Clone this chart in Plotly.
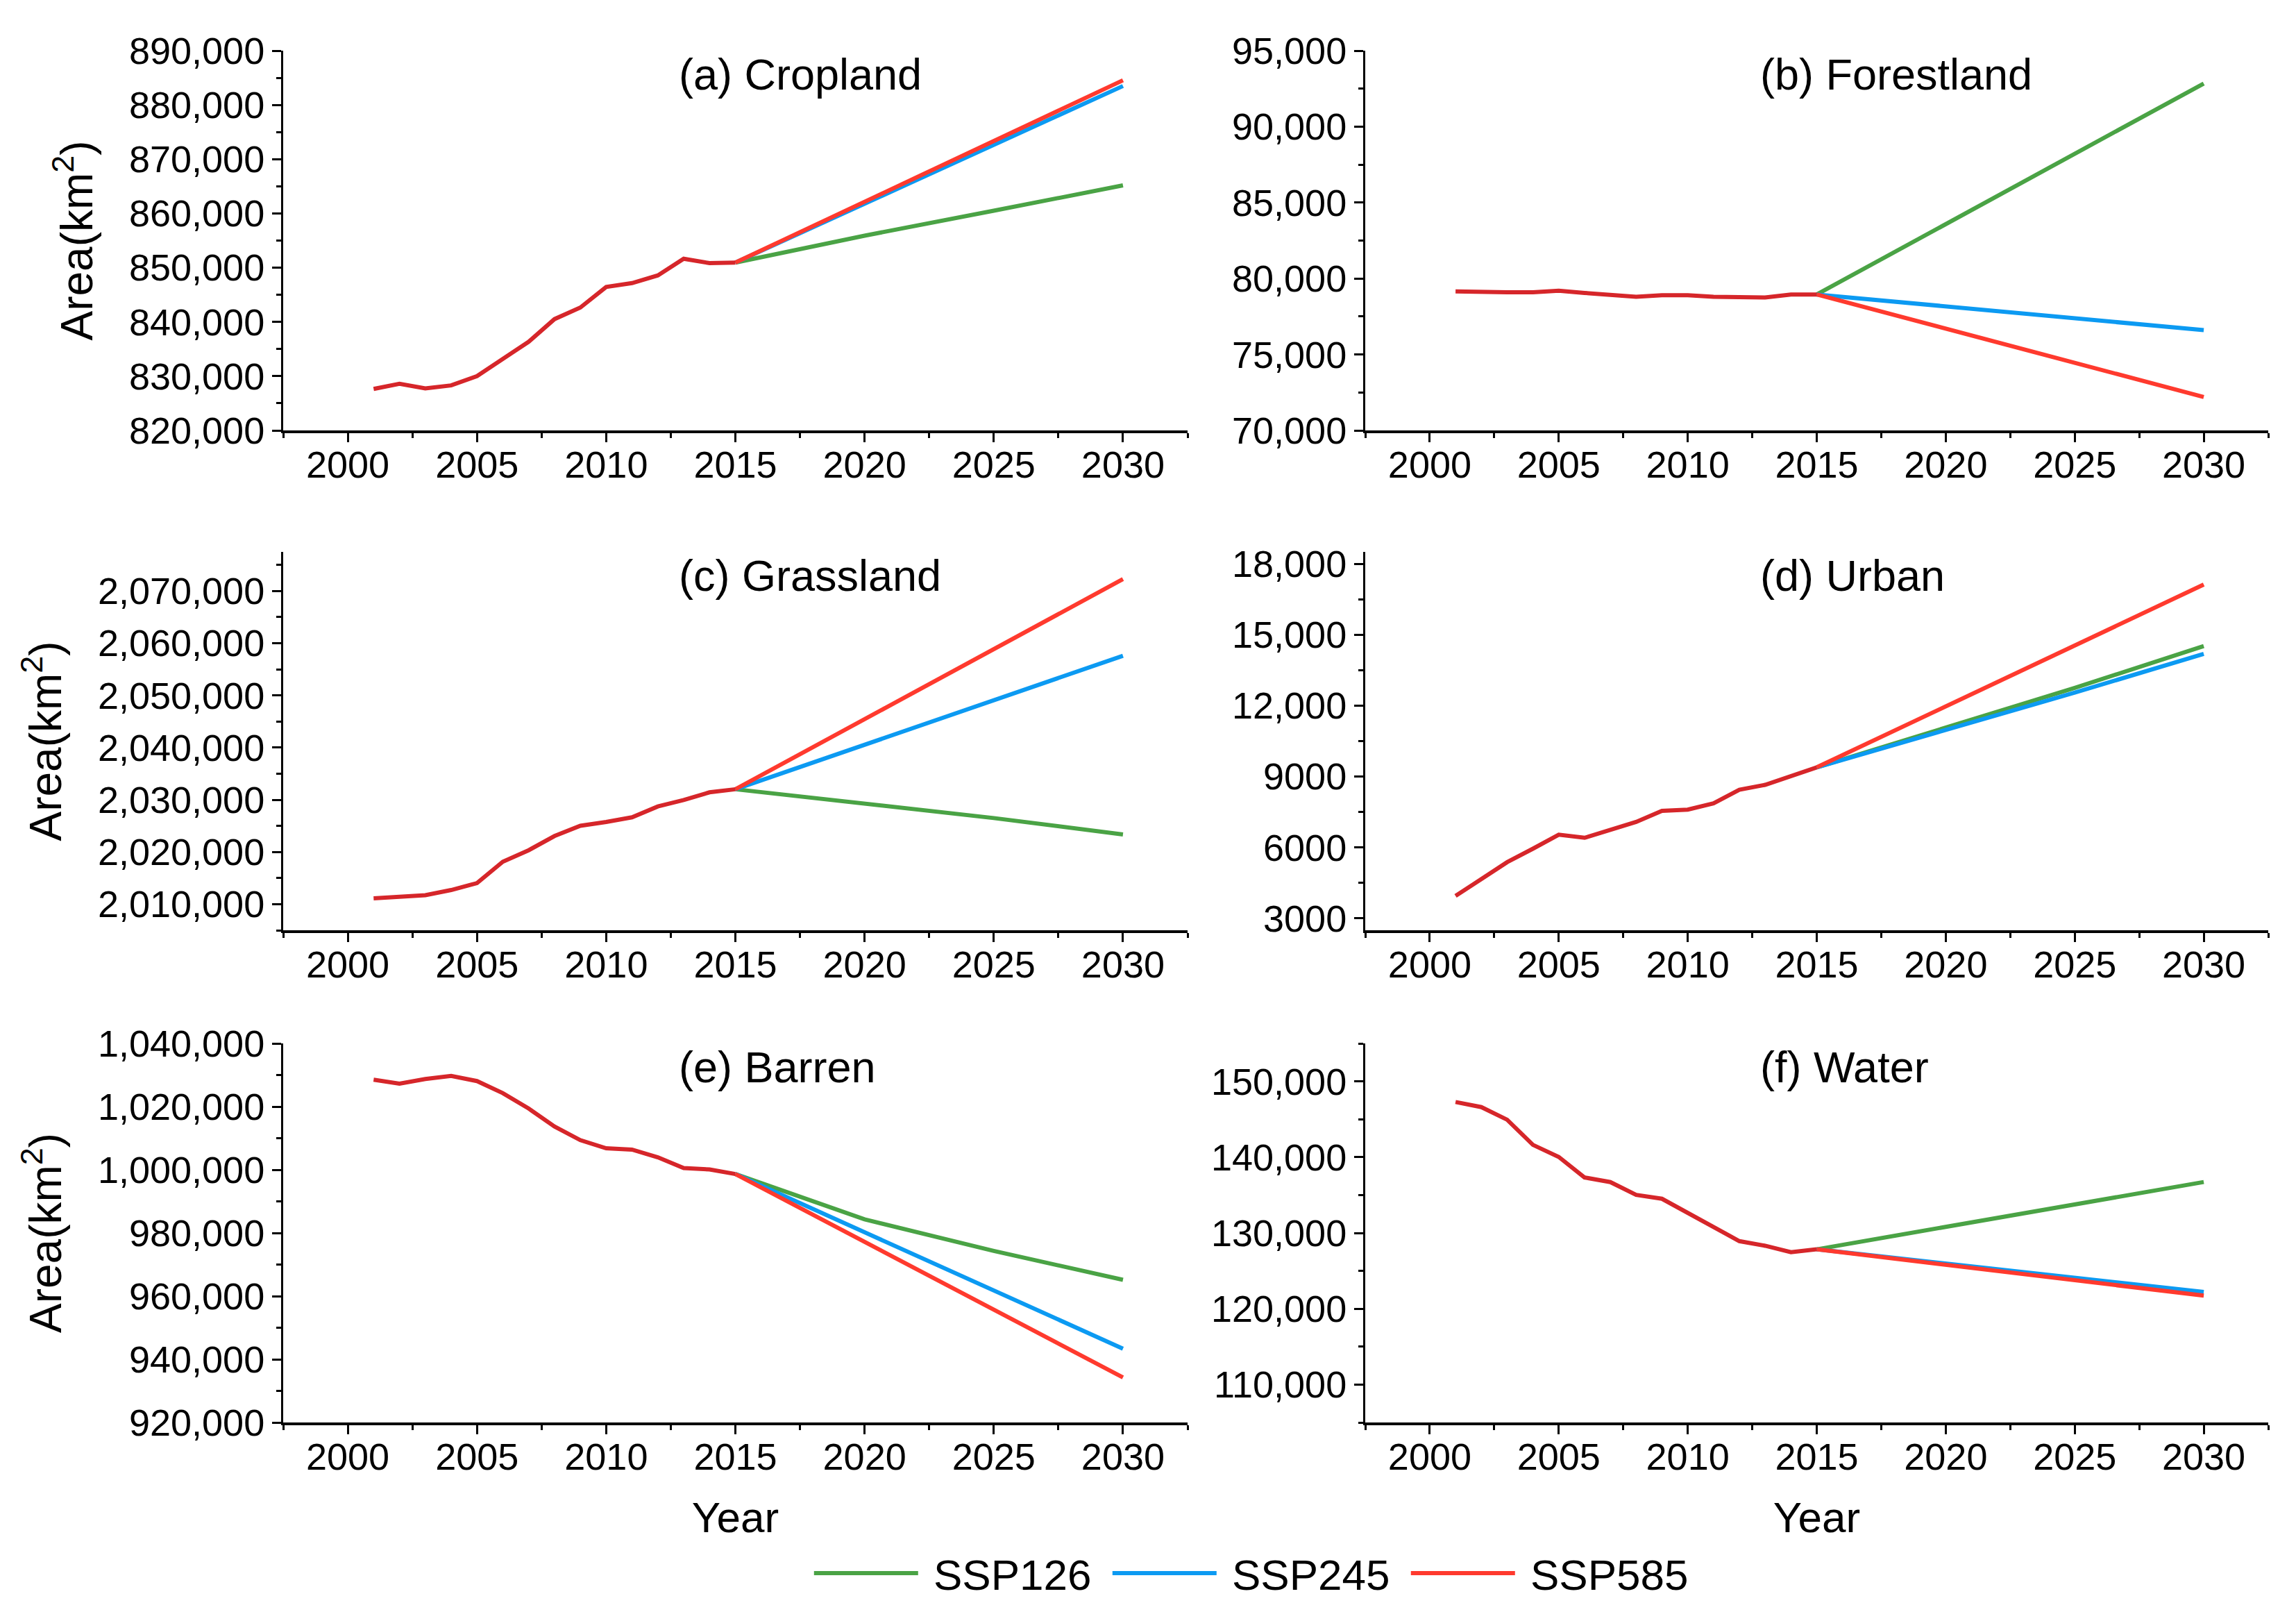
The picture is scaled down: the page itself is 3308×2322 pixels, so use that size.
import plotly.graph_objects as go

# ---------------- data ----------------
years_hist = list(range(2001, 2016))
years_proj = [2015, 2020, 2025, 2030]
scenarios = ["SSP126", "SSP245", "SSP585"]

panel_titles = ["(a) Cropland", "(b) Forestland", "(c) Grassland",
                "(d) Urban", "(e) Barren", "(f) Water"]

crop_hist = [827640, 828590, 827740, 828300, 830010, 833180, 836350, 840520,
             842650, 846440, 847150, 848570, 851650, 850840, 850940]
crop_ssp126 = [850940, 855900, 860500, 865170]
crop_ssp245 = [850940, 861800, 872600, 883490]
crop_ssp585 = [850940, 862200, 873400, 884550]

forest_hist = [79150, 79100, 79100, 79100, 79200, 79050, 78900, 78800,
               78900, 78900, 78800, 78800, 78750, 78950, 78950]
forest_ssp126 = [78950, 83580, 88210, 92840]
forest_ssp245 = [78950, 78170, 77390, 76600]
forest_ssp585 = [78950, 76700, 74450, 72200]

grass_hist = [2011130, 2011480, 2011720, 2012710, 2014040, 2018130, 2020340,
              2023050, 2025020, 2025760, 2026650, 2028720, 2029950, 2031430,
              2032020]
grass_ssp126 = [2032020, 2029300, 2026500, 2023360]
grass_ssp245 = [2032020, 2040550, 2049100, 2057600]
grass_ssp585 = [2032020, 2045500, 2059000, 2072290]

urban_hist = [3950, 4650, 5380, 5950, 6540, 6410, 6740, 7080, 7550, 7600,
              7870, 8440, 8650, 9040, 9390]
urban_ssp126 = [9390, 11050, 12750, 14520]
urban_ssp245 = [9390, 10950, 12550, 14190]
urban_ssp585 = [9390, 11960, 14540, 17120]

barren_hist = [1028500, 1027280, 1028740, 1029720, 1028090, 1024270, 1019390,
               1013700, 1009390, 1006790, 1006380, 1003940, 1000530, 1000120,
               998660]
barren_ssp126 = [998660, 984300, 974300, 965160]
barren_ssp245 = [998660, 980200, 961800, 943360]
barren_ssp585 = [998660, 977200, 955700, 934240]

water_hist = [147270, 146600, 144940, 141620, 140030, 137320, 136710, 135020,
              134510, 132640, 130710, 128920, 128310, 127460, 127840]
water_ssp126 = [127840, 130800, 133800, 136720]
water_ssp245 = [127840, 126000, 124100, 122220]
water_ssp585 = [127840, 125800, 123800, 121730]

x_ticks = [2000, 2005, 2010, 2015, 2020, 2025, 2030]

crop_ticks = [820000, 830000, 840000, 850000, 860000, 870000, 880000, 890000]
forest_ticks = [70000, 75000, 80000, 85000, 90000, 95000]
grass_ticks = [2010000, 2020000, 2030000, 2040000, 2050000, 2060000, 2070000]
urban_ticks = [3000, 6000, 9000, 12000, 15000, 18000]
urban_ticktext = ["3000", "6000", "9000", "12,000", "15,000", "18,000"]
barren_ticks = [920000, 940000, 960000, 980000, 1000000, 1020000, 1040000]
water_ticks = [110000, 120000, 130000, 140000, 150000]

# ---------------- styling ----------------
colors = {"SSP126": "#4AA345", "SSP245": "#0C9AF2", "SSP585": "#FF3A2E"}
hist_color = "#D6262A"
FONT = "Liberation Sans, Arial, sans-serif"

panels = [
    (crop_hist, [crop_ssp126, crop_ssp245, crop_ssp585], [820000, 890000], crop_ticks, None, 5000),
    (forest_hist, [forest_ssp126, forest_ssp245, forest_ssp585], [70000, 95000], forest_ticks, None, 2500),
    (grass_hist, [grass_ssp126, grass_ssp245, grass_ssp585], [2005000, 2077500], grass_ticks, None, 5000),
    (urban_hist, [urban_ssp126, urban_ssp245, urban_ssp585], [2500, 18500], urban_ticks, urban_ticktext, 1500),
    (barren_hist, [barren_ssp126, barren_ssp245, barren_ssp585], [920000, 1040000], barren_ticks, None, 10000),
    (water_hist, [water_ssp126, water_ssp245, water_ssp585], [105000, 155000], water_ticks, None, 5000),
]

W, H = 3308, 2322
x_doms = [[408 / W, 1711 / W], [1967 / W, 3268 / W]]
y_doms = [[1 - 620 / H, 1 - 73 / H], [1 - 1340 / H, 1 - 795 / H], [1 - 2049 / H, 1 - 1503 / H]]

fig = go.Figure()
layout = dict(
    width=W, height=H,
    margin=dict(l=0, r=0, t=0, b=0, autoexpand=False),
    paper_bgcolor="white", plot_bgcolor="white",
    font=dict(family=FONT, color="black", size=54),
    showlegend=True,
    legend=dict(orientation="h", x=0.548, xanchor="center", y=0.024, yanchor="middle",
                font=dict(size=62, family=FONT), itemwidth=150,
                entrywidth=265, entrywidthmode="pixels", tracegroupgap=0,
                bgcolor="rgba(0,0,0,0)"),
)
annotations = []

for i, (hist, projs, yr, yticks, ytext, minor_dt) in enumerate(panels):
    n = i + 1
    row, col = i // 2, i % 2
    xname = "x" if n == 1 else f"x{n}"
    yname = "y" if n == 1 else f"y{n}"
    for s, vals in zip(scenarios, projs):
        fig.add_trace(go.Scatter(
            x=years_proj, y=vals, mode="lines", name="\u00a0" + s,
            line=dict(color=colors[s], width=6),
            xaxis=xname, yaxis=yname, legendgroup=s, showlegend=(i == 0)))
    fig.add_trace(go.Scatter(
        x=years_hist, y=hist, mode="lines", name="Historical",
        line=dict(color=hist_color, width=6),
        xaxis=xname, yaxis=yname, showlegend=False))

    xa = dict(
        domain=x_doms[col], anchor=yname, range=[1997.5, 2032.5], automargin=False,
        tickvals=x_ticks, ticks="outside", ticklen=13, tickwidth=3, tickcolor="black",
        showline=True, linewidth=4, linecolor="black", showgrid=False, zeroline=False,
        tickfont=dict(size=54, family=FONT), ticklabelstandoff=-14,
        minor=dict(ticks="outside", ticklen=7, tickwidth=3, tickcolor="black",
                   tick0=1997.5, dtick=2.5, showgrid=False),
    )
    if row == 2:
        xa["title"] = dict(text="Year", font=dict(size=62, family=FONT), standoff=38)
    ya = dict(
        domain=y_doms[row], anchor=xname, range=yr, automargin=False,
        tickvals=yticks, ticks="outside", ticklen=13, tickwidth=3, tickcolor="black",
        showline=True, linewidth=3, linecolor="black", showgrid=False, zeroline=False,
        tickfont=dict(size=54, family=FONT),
        minor=dict(ticks="outside", ticklen=7, tickwidth=3, tickcolor="black",
                   tick0=yr[0] - (yr[0] % minor_dt), dtick=minor_dt, showgrid=False),
    )
    if ytext is not None:
        ya["ticktext"] = ytext
    else:
        ya["tickformat"] = ",d"
    if col == 0:
        ya["title"] = dict(text="Area(km<sup>2</sup>)", font=dict(size=64, family=FONT), standoff=32)
    layout["xaxis" if n == 1 else f"xaxis{n}"] = xa
    layout["yaxis" if n == 1 else f"yaxis{n}"] = ya

    annotations.append(dict(
        text=panel_titles[i], xref=f"{xname} domain", yref=f"{yname} domain",
        x=0.436, y=1.005, xanchor="left", yanchor="top", showarrow=False,
        font=dict(size=63, family=FONT, color="black")))

layout["annotations"] = annotations
fig.update_layout(**layout)
fig.write_html("out.html",
               config={"displayModeBar": False},
               post_script="document.body.style.margin='0';document.body.style.padding='0';")
